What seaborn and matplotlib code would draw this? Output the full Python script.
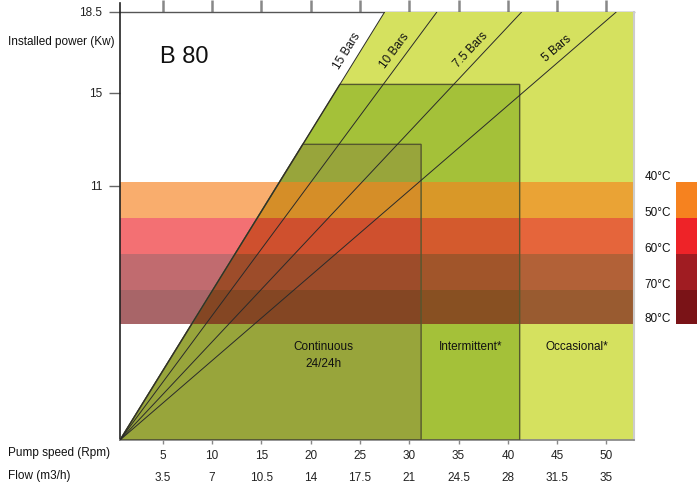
import numpy as np
import pandas as pd
import seaborn as sns
import matplotlib.pyplot as plt
from matplotlib.patches import Polygon, Rectangle
from matplotlib.transforms import blended_transform_factory

# pump speed ticks (rpm) and matching flow (m3/h)
speeds = [5, 10, 15, 20, 25, 30, 35, 40, 45, 50]
flows = ['3.5', '7', '10.5', '14', '17.5', '21', '24.5', '28', '31.5', '35']
power_ticks = [11, 15, 18.5]

# pressure lines: speed (rpm) at which each line hits the top (18.5 kW)
bars = ['15 Bars', '10 Bars', '7.5 Bars', '5 Bars']
bars_top_speed = [27.5, 32.8, 41.4, 51.0]

# duty zones: right limit (rpm), top limit (kW)
zones = ['Continuous\n24/24h', 'Intermittent*', 'Occasional*']
zone_speed = [31.2, 41.2, 52.8]
zone_power = [12.78, 15.37, 18.5]
zone_colors = ['#98a53b', '#a4c139', '#d5e15f']

# oil temperature bands (kW limits, top to bottom)
temps = ['40°C', '50°C', '60°C', '70°C', '80°C']
temp_edges = [11.15, 9.6, 8.05, 6.5, 5.0]
temp_colors = ['#f6821f', '#ee2328', '#a01c22', '#7a1317']

X0 = 0.65     # origin of the chart on the speed axis
PMAX = 18.5

sns.set_theme(style="white")
plt.rcParams['font.family'] = ['Liberation Sans', 'DejaVu Sans']

fig = plt.figure(figsize=(6.97, 4.88), dpi=100)
ax = fig.add_axes([120 / 697, 48 / 488, 514 / 697, 428 / 488])
ax.set_xlim(X0, 52.8)
ax.set_ylim(0, PMAX)

def left_edge(h):
    # the 15 bar line bounds every zone on the left
    return X0 + h * (bars_top_speed[0] - X0) / PMAX

# zones, widest first
for i in reversed(range(len(zones))):
    top = zone_power[i]
    pts = [(X0, 0), (left_edge(top), top), (zone_speed[i], top), (zone_speed[i], 0)]
    ax.add_patch(Polygon(pts, closed=True, facecolor=zone_colors[i], edgecolor='none', zorder=1))
    if i < 2:
        ax.add_patch(Polygon(pts, closed=True, fill=False, edgecolor='#55582e', lw=1, zorder=4))

# temperature bands
for i in range(len(temp_colors)):
    ax.axhspan(temp_edges[i + 1], temp_edges[i], color=temp_colors[i], alpha=0.65, lw=0, zorder=2)

# pressure lines
lines = pd.DataFrame({
    'bar': np.repeat(bars, 2),
    'rpm': [v for t in bars_top_speed for v in (X0, t)],
    'kw': [0, PMAX] * len(bars),
})
sns.lineplot(data=lines, x='rpm', y='kw', units='bar', estimator=None, color='#2a2a2a',
             lw=0.7, legend=False, ax=ax, zorder=5)

# pressure labels along the lines
label_y = 16.55
for name, t in zip(bars, bars_top_speed):
    slope = PMAX / (t - X0)
    xl = X0 + label_y / slope
    p1 = ax.transData.transform((X0, 0))
    p2 = ax.transData.transform((t, PMAX))
    ang = np.arctan2(p2[1] - p1[1], p2[0] - p1[0])
    off = 11
    ax.annotate(name, (xl, label_y), xytext=(-np.sin(ang) * off, np.cos(ang) * off),
                textcoords='offset pixels', rotation=np.degrees(ang), rotation_mode='anchor',
                ha='center', va='center', fontsize=8.5, color='#111', zorder=6)

# zone labels
zone_text_pos = [(21.3, 3.67), (36.2, 4.02), (47.0, 4.02)]
for name, (zx, zy) in zip(zones, zone_text_pos):
    ax.text(zx, zy, name, ha='center', va='center', fontsize=8.5, color='#111',
            linespacing=1.55, zorder=6)

ax.text(4.7, 16.55, 'B 80', fontsize=17, color='#111', va='center', ha='left')

# axes and ticks
ax.set_yticks(power_ticks)
ax.set_yticklabels(['11', '15', '18.5'], fontsize=8.5, color='#222')
ax.tick_params(axis='y', left=True, length=8, width=1, color='#666', pad=5)
ax.set_xticks(speeds)
ax.set_xticklabels([f'{s}\n{f}' for s, f in zip(speeds, flows)], fontsize=8.5,
                   color='#222', linespacing=2.15)
ax.tick_params(axis='x', bottom=True, length=3, width=1, color='#888', pad=4)
ax.set_xlabel('')
ax.set_ylabel('')

top = ax.secondary_xaxis('top')
top.set_xticks(speeds)
top.set_xticklabels([])
top.tick_params(length=9, width=1.8, color='#888')
top.spines['top'].set_color('#555')
top.spines['top'].set_linewidth(1)

ax.spines['top'].set_visible(False)
ax.spines['left'].set_color('#222')
ax.spines['left'].set_linewidth(1.2)
ax.spines['left'].set_bounds(0, 18.9)
ax.spines['bottom'].set_color('#888')
ax.spines['right'].set_color('#ccc')
ax.spines['right'].set_linewidth(1.5)

fig.text(8 / 697, 1 - 42 / 488, 'Installed power (Kw)', fontsize=8.5, color='#111', va='center')
fig.text(8 / 697, 1 - 453 / 488, 'Pump speed (Rpm)', fontsize=8.5, color='#111', va='center')
fig.text(8 / 697, 1 - 476 / 488, 'Flow (m3/h)', fontsize=8.5, color='#111', va='center')

# temperature legend on the right
trans = blended_transform_factory(fig.transFigure, ax.transData)
for i, c in enumerate(temp_colors):
    ax.add_patch(Rectangle((676 / 697, temp_edges[i + 1]), 30 / 697, temp_edges[i] - temp_edges[i + 1],
                           transform=trans, facecolor=c, edgecolor='none', clip_on=False))
for name, e in zip(temps, temp_edges):
    ax.annotate(name, (671 / 697, e), xycoords=trans, xytext=(0, 5), textcoords='offset pixels',
                ha='right', va='center', fontsize=8.5, color='#111', annotation_clip=False)

fig.savefig('out.png', dpi=100)
